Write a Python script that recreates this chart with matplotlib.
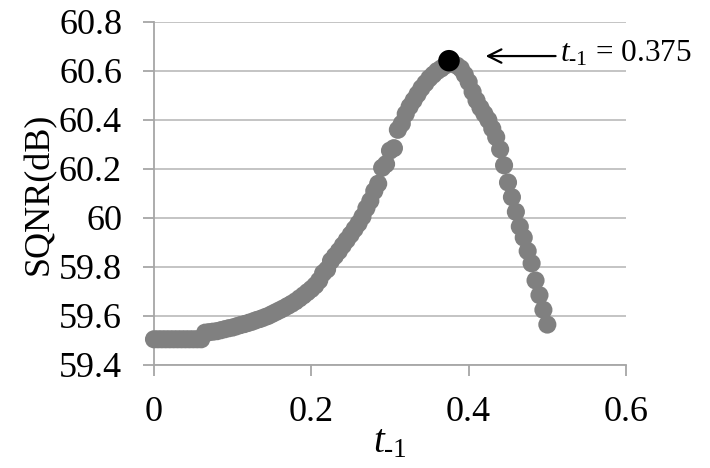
import numpy as np
import matplotlib
matplotlib.use('Agg')
import matplotlib.pyplot as plt

plt.rcParams['font.family'] = ['Liberation Serif', 'DejaVu Serif']
plt.rcParams['mathtext.fontset'] = 'custom'
plt.rcParams['mathtext.rm'] = 'Liberation Serif'
plt.rcParams['mathtext.it'] = 'Liberation Serif:italic'

# t_-1 sampled every 0.005 from 0 to 0.5
t_vals = np.round(np.arange(101) * 0.005, 3)
sqnr = [
    59.505, 59.505, 59.505, 59.505, 59.505, 59.505, 59.505, 59.505, 59.505, 59.505,
    59.505, 59.505, 59.505, 59.532, 59.534, 59.536, 59.538, 59.542, 59.546, 59.550,
    59.553, 59.558, 59.563, 59.567, 59.572, 59.577, 59.583, 59.588, 59.594, 59.600,
    59.608, 59.616, 59.624, 59.632, 59.641, 59.650, 59.660, 59.672, 59.684, 59.697,
    59.710, 59.725, 59.745, 59.775, 59.790, 59.825, 59.845, 59.865, 59.888, 59.910,
    59.932, 59.955, 59.978, 60.005, 60.040, 60.070, 60.110, 60.140, 60.205, 60.220,
    60.275, 60.285, 60.360, 60.385, 60.425, 60.455, 60.480, 60.505, 60.530, 60.550,
    60.570, 60.585, 60.600, 60.610, 60.622, 60.642, 60.630, 60.622, 60.610, 60.585,
    60.555, 60.515, 60.480, 60.450, 60.425, 60.400, 60.365, 60.330, 60.280, 60.215,
    60.145, 60.085, 60.025, 59.965, 59.920, 59.865, 59.815, 59.745, 59.685, 59.625,
    59.565,
]
best_t = 0.375
best_sqnr = 60.642

x_ticks = [0, 0.2, 0.4, 0.6]
x_tick_labels = ['0', '0.2', '0.4', '0.6']
y_ticks = [59.4, 59.6, 59.8, 60.0, 60.2, 60.4, 60.6, 60.8]
y_tick_labels = ['59.4', '59.6', '59.8', '60', '60.2', '60.4', '60.6', '60.8']

fig = plt.figure(figsize=(7.1, 4.68), dpi=100)
ax = fig.add_axes([0.2169, 0.2201, 0.6648, 0.7329])

ax.scatter(t_vals, sqnr, s=170, color='#808080', edgecolors='none', zorder=3, clip_on=False)
ax.scatter([best_t], [best_sqnr], s=240, color='black', edgecolors='none', zorder=4, clip_on=False)

ax.set_xlim(0, 0.6)
ax.set_ylim(59.4, 60.8)
ax.set_xticks(x_ticks)
ax.set_xticklabels(x_tick_labels)
ax.set_yticks(y_ticks)
ax.set_yticklabels(y_tick_labels)

ax.grid(axis='y', color='#bfbfbf', linewidth=1.3, zorder=0)
ax.set_axisbelow(True)
for side in ['top', 'right']:
    ax.spines[side].set_visible(False)
for side in ['left', 'bottom']:
    ax.spines[side].set_color('#a6a6a6')
    ax.spines[side].set_linewidth(1.3)

ax.tick_params(axis='both', direction='out', length=8, width=1.3, color='#a6a6a6',
               labelsize=26, labelcolor='black')
ax.tick_params(axis='x', pad=14)
ax.tick_params(axis='y', pad=15)

ax.set_ylabel('SQNR(dB)', fontsize=26, labelpad=2)
ax.set_xlabel(r'$t_{\text{-1}}$', fontsize=28, labelpad=-3)

# arrow pointing at the optimum
ax.annotate('', xy=(0.418, 60.661), xytext=(0.514, 60.661),
            arrowprops=dict(arrowstyle='->', lw=1.6, color='black', mutation_scale=24),
            annotation_clip=False)
ax.text(0.516, 60.672, r'$t_{\text{-1}}$ = 0.375', fontsize=22.5, ha='left', va='center',
        clip_on=False)

fig.savefig('out.png', dpi=100)
